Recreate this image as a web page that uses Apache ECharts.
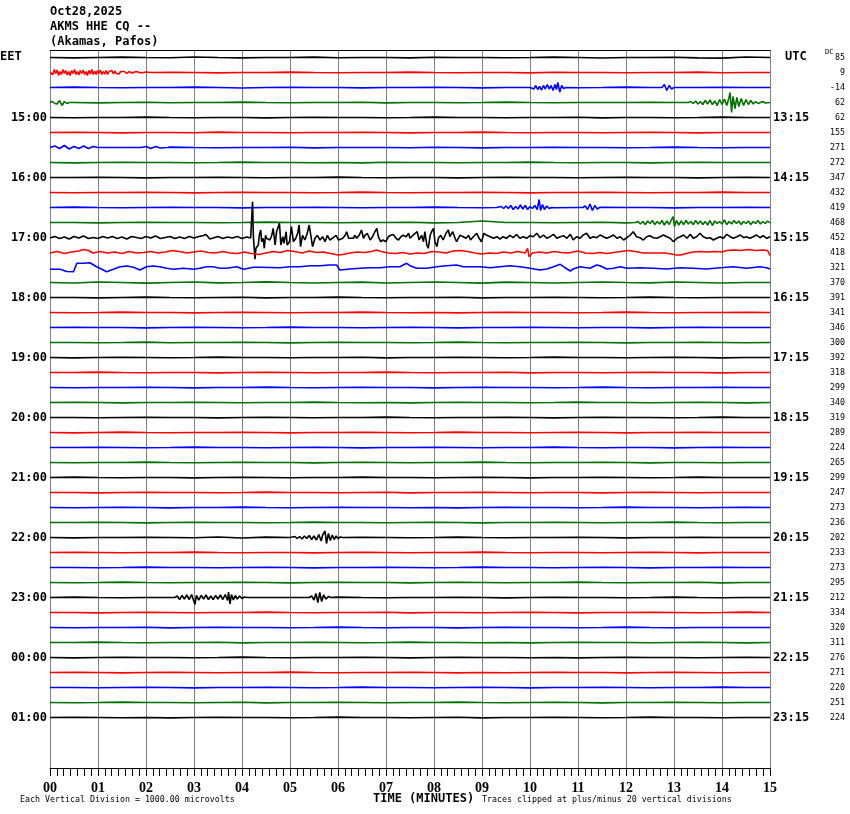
<!DOCTYPE html>
<html><head><meta charset="utf-8">
<script src="https://cdn.jsdelivr.net/npm/echarts@6/dist/echarts.min.js"></script>
<style>html,body{margin:0;padding:0;background:#fff}#c{width:850px;height:814px}</style>
</head><body><div id="c"></div><script>
// ---------- DATA ----------
const titleLines = ['Oct28,2025', 'AKMS HHE CQ --', '(Akamas, Pafos)'];
const eetHourLabels = ['15:00','16:00','17:00','18:00','19:00','20:00','21:00','22:00','23:00','00:00','01:00'];
const utcHourLabels = ['13:15','14:15','15:15','16:15','17:15','18:15','19:15','20:15','21:15','22:15','23:15'];
const dcValues = [85,9,-14,62,62,155,271,272,347,432,419,468,452,418,321,370,391,341,346,300,392,318,299,340,319,289,224,265,299,247,273,236,202,233,273,295,212,334,320,311,276,271,220,251,224];
const traceColors = ['#000000','#ff0000','#0000ff','#007000'];

// background deflection of each trace, one value every half minute (0..15), in px of deflection (+ = down)
const baseTraces = [
 [0,.4,0,-.4,0,.3,-.5,0,.4,0,0,-.4,.3,0,0,.4,-.3,0,0,.3,0,-.4,0,.5,0,0,-.3,.4,.6,-.5,0],
 [0,0,0,.4,0,-.3,0,.4,0,0,-.4,0,.3,0,0,-.4,0,.3,0,0,.4,-.3,0,0,.3,0,0,-.4,.3,0,0],
 [0,-.4,0,.3,0,0,-.4,0,.5,0,-.3,0,0,.4,0,0,-.3,0,.4,0,0,0,.3,0,-.4,0,.3,0,-.3,0,0],
 [0,0,.4,0,-.3,.3,0,0,-.4,0,.3,0,0,-.3,.4,0,0,.3,0,-.4,0,.3,0,0,0,-.3,0,0,0,.4,0],
 [0,.3,0,0,-.4,0,.3,0,0,.4,0,-.3,0,0,.3,0,-.4,0,0,.3,0,0,-.3,.4,0,0,.3,0,-.4,0,0],
 [0,-.3,0,.4,0,0,.3,-.4,0,0,.3,0,0,-.3,0,.4,0,0,-.4,0,.3,0,0,.3,0,-.3,0,.4,0,0,0],
 [0,0,.3,0,0,-.4,0,.3,0,0,-.3,.4,0,0,0,.3,-.3,0,.4,0,0,-.3,0,0,.3,0,-.4,0,.3,0,0],
 [0,.4,0,-.3,0,0,.3,0,-.4,0,0,.3,0,.4,-.3,0,0,.3,0,0,-.4,0,.3,0,0,.4,0,-.3,0,0,0],
 [0,0,-.3,0,.4,0,0,-.3,0,.3,0,0,-.4,0,.3,0,0,.4,0,-.3,0,0,.3,0,-.3,0,0,.4,0,-.3,0],
 [0,.3,0,0,-.3,0,.4,0,-.3,0,0,.3,0,-.4,0,.3,0,0,-.3,0,.4,0,0,-.3,0,.3,0,0,-.4,0,0],
 [0,-.4,0,.3,0,-.3,0,0,.4,0,0,-.3,0,.3,0,0,-.4,0,.3,0,0,.3,0,-.3,0,0,.4,0,0,-.3,0],
 [0,0,.4,0,-.3,0,0,.3,0,-.4,0,0,.3,0,0,-.3,.4,0,-1.5,0,0,.3,0,-.3,.4,0,0,0,0,0,0],
 null,
 null,
 null,
 [0,.5,-.5,0,.6,0,-.5,.4,0,-.6,0,.5,0,-.4,.5,0,-.5,0,.6,-.4,0,.5,0,-.5,0,.4,-.5,0,.5,0,0],
 [0,0,.4,0,-.4,0,.3,0,-.3,.4,0,0,-.4,0,.3,0,0,-.3,.4,0,0,-.3,0,.3,0,-.4,0,.3,0,0,0],
 [0,.3,0,-.4,0,0,.4,0,-.3,0,.3,0,0,-.4,0,.3,0,.4,0,-.3,0,0,.3,0,-.4,0,.3,0,0,-.3,0],
 [0,-.3,0,0,.4,0,-.3,0,.3,0,-.4,0,0,.3,0,-.3,0,.4,0,0,-.3,0,.3,0,0,.4,0,-.3,0,0,0],
 [0,0,.3,0,-.4,.3,0,0,-.3,0,.4,0,-.3,0,0,.3,0,-.4,0,.3,0,0,-.3,0,.4,0,0,-.3,0,.3,0],
 [0,.4,0,-.3,0,.3,0,-.4,0,0,.3,0,0,-.3,.4,0,0,-.3,0,.3,0,-.4,0,0,.3,0,-.3,0,.4,0,0],
 [0,0,-.4,0,.3,0,0,.4,0,-.3,0,.3,0,0,-.4,0,.3,0,0,-.3,.4,0,0,.3,0,-.3,0,0,.4,0,0],
 [0,.3,0,0,-.3,0,.4,0,0,-.4,0,.3,0,-.3,0,0,.4,0,-.3,0,0,.3,0,-.4,0,.3,0,0,-.3,0,0],
 [0,-.3,0,.4,0,0,-.3,0,.3,0,0,-.4,0,.3,0,.4,0,-.3,0,0,.3,0,-.4,0,0,.3,0,-.3,0,.4,0],
 [0,0,.3,0,-.3,0,0,.4,0,-.3,0,.3,0,0,-.4,0,.3,0,0,-.3,0,.4,0,-.3,0,0,.3,0,-.4,0,0],
 [0,.4,0,-.4,0,.3,0,0,-.3,0,.4,0,0,-.3,0,.3,0,-.4,0,0,.3,0,-.3,0,.4,0,0,-.3,0,0,0],
 [0,0,-.3,0,.3,0,-.4,0,0,.3,0,-.3,0,.4,0,0,-.3,0,.3,0,0,-.4,0,.3,0,0,.4,0,-.3,0,0],
 [0,.3,0,0,-.4,0,.3,0,-.3,0,0,.4,0,-.3,0,.3,0,0,-.4,0,.3,0,0,-.3,0,.4,0,0,.3,0,0],
 [0,-.4,0,.3,0,0,.4,0,-.3,0,.3,0,0,-.4,0,0,.3,0,-.3,0,.4,0,0,-.3,0,.3,0,-.4,0,0,0],
 [0,0,.4,0,-.3,0,0,.3,0,-.4,0,0,.3,0,-.3,.4,0,0,-.3,0,.3,0,0,.4,0,-.3,0,.3,0,0,0],
 [0,.3,0,-.3,0,.4,0,0,-.4,0,.3,0,-.3,0,0,.3,0,.4,0,-.3,0,0,.3,0,-.4,0,0,.3,0,-.3,0],
 [0,0,-.3,0,.4,0,-.3,0,0,.3,0,-.4,0,0,.3,0,-.3,0,.4,0,0,-.3,0,.3,0,0,-.4,0,.3,0,0],
 [0,.4,0,0,-.3,0,.3,-.5,.5,-.4,.4,0,0,-.3,0,.3,0,-.4,0,.3,0,0,-.3,0,.4,0,0,-.3,0,0,0],
 [0,-.3,0,.3,0,0,-.4,0,.3,0,0,.4,0,-.3,0,.3,0,0,-.4,0,.3,0,0,.3,0,-.3,0,.4,0,0,0],
 [0,0,.3,0,-.4,0,0,.3,0,-.3,0,.4,0,0,-.3,0,.3,0,-.4,0,0,.3,0,-.3,0,.4,0,0,-.3,0,0],
 [0,.3,0,-.4,0,.3,0,0,-.3,0,.4,0,-.3,0,0,.4,0,-.3,0,.3,0,0,-.4,0,.3,0,0,-.3,.4,0,0],
 [0,-.4,0,.3,0,0,.4,0,-.3,0,0,.3,-.4,0,.3,0,0,-.3,0,.4,0,-.3,0,0,.3,0,-.4,0,.3,0,0],
 [0,0,.4,0,-.3,0,.3,0,0,-.4,0,.3,0,0,-.3,.4,0,0,.3,0,-.3,0,.4,0,0,-.3,0,.3,0,-.4,0],
 [0,.3,0,0,-.3,.4,0,-.3,0,0,.3,0,-.4,0,.3,0,0,.4,0,-.3,0,0,.3,0,-.4,0,.3,0,0,0,0],
 [0,0,-.4,0,.3,0,0,-.3,.4,0,0,-.3,0,.3,0,-.4,0,0,.3,0,.4,0,-.3,0,0,.3,0,-.3,0,.4,0],
 [0,.4,0,-.3,0,0,.3,0,-.4,0,.3,0,0,-.3,0,.4,0,-.3,0,0,.3,0,.4,0,-.3,0,0,.3,0,-.3,0],
 [0,-.3,0,.4,0,-.3,0,.3,0,0,-.4,0,.3,0,0,-.3,0,.4,0,.3,0,-.3,0,0,.4,0,-.3,0,.3,0,0],
 [0,0,.3,0,-.3,0,.4,0,0,-.3,0,.3,0,-.4,0,0,.3,0,-.3,0,.4,0,0,-.3,0,.3,0,0,-.4,0,0],
 [0,.3,0,-.4,0,0,.3,0,-.3,.4,0,0,-.3,0,.3,0,0,-.4,0,.3,0,-.3,0,.4,0,0,-.3,0,.3,0,0],
 [0,-.3,0,.3,0,.4,0,-.3,0,0,.3,0,-.4,0,0,.3,0,-.3,.4,0,0,-.3,0,.3,0,-.4,0,0,.3,0,0]
];

// bursts / detailed sections: [minute, deflection px]
const noise1415 = [[0,0],[0.03,-2],[0.06,2],[0.09,-3],[0.12,1],[0.15,-2.5],[0.18,3],[0.21,-1],[0.24,2],[0.27,-3],[0.3,1],[0.33,-2],[0.36,2.5],[0.39,-1],[0.42,3],[0.45,-2],[0.48,1],[0.51,-3],[0.54,2],[0.57,-1],[0.6,2.5],[0.63,-2],[0.66,1],[0.69,-2.5],[0.72,2],[0.75,-1],[0.78,3],[0.81,-2],[0.84,1.5],[0.87,-3],[0.9,2],[0.93,-1.5],[0.96,2],[0.99,-2],[1.02,1],[1.05,-2.5],[1.08,2],[1.11,-1],[1.14,1.5],[1.17,-2],[1.2,2],[1.23,-1],[1.26,1],[1.29,-2],[1.32,1.5],[1.35,-1.5],[1.38,1],[1.41,-1],[1.44,1.5],[1.47,-1],[1.5,1],[1.55,-1],[1.6,1],[1.65,-1],[1.7,0.5],[1.8,-1],[1.9,0.5],[2.0,-0.5],[2.1,0]];
const event1430a = [[10.0,0],[10.04,-1.5],[10.08,1.5],[10.12,-2],[10.16,2],[10.2,-1],[10.24,2.5],[10.28,-2],[10.32,1.5],[10.36,-3],[10.4,1.5],[10.44,-2],[10.48,3],[10.52,-3],[10.55,2],[10.58,-5],[10.62,4.5],[10.66,-2],[10.7,1],[10.75,0]];
const event1430b = [[12.75,0],[12.8,-3],[12.85,3],[12.9,-2],[12.95,1.5],[13.0,0]];
const noise1445 = [[0,0],[0.05,-1],[0.1,1],[0.15,1.5],[0.2,-2],[0.25,3],[0.3,-1],[0.35,1],[0.4,0]];
const event1445 = [[13.3,0],[13.35,-1],[13.4,1],[13.45,-1.5],[13.5,1.5],[13.55,-1],[13.6,2],[13.65,-2],[13.7,1.5],[13.75,-2.5],[13.8,2],[13.85,-1.5],[13.9,3],[13.95,-3],[14.0,2],[14.05,-3.5],[14.1,3],[14.14,-4],[14.17,-10],[14.2,10],[14.23,-6],[14.27,6],[14.31,-5],[14.35,4],[14.4,-4],[14.45,3],[14.5,-3],[14.55,2],[14.6,-2],[14.65,1.5],[14.7,-1],[14.75,1],[14.85,-1],[14.9,0.5],[15,0]];
const noise1530a = [[0,0],[0.1,-1.5],[0.2,1],[0.3,-2],[0.4,1.5],[0.5,-1],[0.6,1],[0.7,-1.5],[0.8,1],[0.9,-1],[1.0,0]];
const noise1530b = [[1.9,0],[2.0,-1],[2.1,1],[2.2,-1],[2.3,0.5],[2.45,0]];
const event1630a = [[9.3,0],[9.4,-1],[9.45,1],[9.5,-1.5],[9.55,1],[9.6,-2],[9.65,2],[9.7,-1],[9.75,1.5],[9.8,-2.5],[9.85,1.5],[9.9,-2],[9.95,2],[10.0,-1],[10.05,1],[10.1,-2],[10.15,2],[10.19,-8],[10.22,3],[10.26,-3],[10.3,2],[10.35,-1.5],[10.4,1],[10.45,0]];
const event1630b = [[11.1,0],[11.15,-1.5],[11.2,2],[11.25,-3.5],[11.3,3],[11.35,-2],[11.4,1.5],[11.45,0]];
const noise1645 = [[12.2,0],[12.25,-1],[12.3,1.5],[12.35,-1],[12.4,2],[12.45,-1.5],[12.5,1],[12.55,-2],[12.6,2],[12.65,-1],[12.7,1.5],[12.75,-2],[12.8,2.5],[12.85,-1.5],[12.9,2],[12.95,-3],[12.98,-6],[13.01,4],[13.05,-2],[13.1,2.5],[13.15,-1.5],[13.2,2],[13.25,-2],[13.3,1.5],[13.35,-1],[13.4,2],[13.45,-2],[13.5,1.5],[13.55,-1.5],[13.6,2],[13.65,-1],[13.7,2.5],[13.75,-2],[13.8,3],[13.85,-1.5],[13.9,1],[13.95,-1],[14.0,1.5],[14.05,-2.5],[14.1,2],[14.15,-1],[14.2,1.5],[14.25,-2],[14.3,1],[14.35,-1.5],[14.4,2],[14.45,-1],[14.5,1],[14.55,-1.5],[14.6,2],[14.65,-1],[14.7,1],[14.75,-2],[14.8,1.5],[14.85,-1],[14.9,1],[14.95,-1.5],[15,0.5]];
const quake1700 = [[0,0.5],[0.1,-1],[0.2,1],[0.3,-0.5],[0.4,1.5],[0.5,-1],[0.6,0.5],[0.7,-1.5],[0.8,1],[0.9,0],[1.0,1],[1.1,-1],[1.2,0.5],[1.3,-1],[1.4,1],[1.5,-0.5],[1.6,1.5],[1.7,-1],[1.8,0],[1.9,1],[2.0,-1],[2.1,0.5],[2.2,-1.5],[2.3,1],[2.4,0],[2.5,-1],[2.6,1],[2.7,-0.5],[2.8,1],[2.9,-1],[3.0,0.5],[3.1,-1],[3.2,-2],[3.25,-3],[3.33,1.5],[3.4,0.5],[3.5,-1],[3.6,1],[3.7,-0.5],[3.8,0.5],[3.9,-1],[4.0,1],[4.1,-0.5],[4.18,0.5],
 [4.2,-0.8],[4.22,-35.8],[4.236,-2],[4.27,21.8],[4.29,10.8],[4.34,7.5],[4.36,-2],[4.39,-7.5],[4.41,4.2],[4.44,0.8],[4.465,10.8],[4.49,-2.2],[4.51,0.8],[4.55,-0.8],[4.58,2.5],[4.62,-2.2],[4.65,-9.2],[4.69,7.5],[4.72,-5.8],[4.78,-14.2],[4.81,7.5],[4.85,-0.8],[4.875,5.8],[4.92,-5.8],[4.94,7.5],[4.99,4.2],[5.03,-10.8],[5.07,4.2],[5.12,0.8],[5.16,-4.2],[5.19,-12.5],[5.22,9.2],[5.26,-2.2],[5.31,2.5],[5.36,-4.2],[5.40,-12.5],[5.43,-14.2],[5.47,9.2],[5.52,0.8],[5.57,-2.2],[5.625,2.5],[5.68,-0.8],[5.73,4.2],[5.78,-2.2],[5.83,2.5],[5.90,0.2],[5.96,-2.2],[6.01,2.5],[6.04,4.2],[6.10,0.8],[6.15,-2.2],[6.18,-5.8],[6.22,0.8],[6.26,-0.8],[6.32,0.8],[6.35,-2.2],[6.39,0.8],[6.44,-2.2],[6.49,-7.5],[6.53,0.8],[6.56,-2.2],[6.61,-4.2],[6.67,2.5],[6.72,-0.8],[6.77,-5.8],[6.81,-9.2],[6.84,-0.8],[6.89,4.2],[6.94,2.5],[7.0,4.2],[7.05,-0.8],[7.10,-2.2],[7.15,-3],[7.21,0.8],[7.26,2.5],[7.31,-0.8],[7.36,-2.2],[7.42,-0.8],[7.47,-4.2],[7.5,0.8],[7.56,-2.2],[7.6,-0.8],[7.65,-5.8],[7.69,2.5],[7.74,-2.2],[7.78,4.2],[7.81,-5.8],[7.85,7.5],[7.88,10.8],[7.92,-2.2],[7.95,-5.8],[7.99,-9.2],[8.02,4.2],[8.06,9.2],[8.09,0.8],[8.14,-2.2],[8.19,2.5],[8.25,-4.2],[8.30,-7.5],[8.33,-0.8],[8.39,-5.8],[8.44,0.8],[8.47,4.2],[8.54,-2.2],[8.61,-0.8],[8.67,0.8],[8.72,-2.2],[8.76,2.5],[8.82,-0.8],[8.89,-4.2],[8.94,0.8],[8.99,4.2],[9.04,-4.2],[9.10,-2.2],[9.17,-0.8],[9.24,0.8],[9.31,-0.8],[9.375,1.5],[9.44,-0.8],[9.51,0.8],[9.58,-2.2],[9.65,0.2],[9.72,-3],[9.79,0.8],[9.86,-0.8],[9.93,0.8],[10.0,-1.8],
 [10.07,-0.8],[10.14,-4.2],[10.21,0.2],[10.28,-2.5],[10.35,0.8],[10.42,-0.8],[10.49,-3.2],[10.56,0.8],[10.63,-0.8],[10.7,-1.8],[10.77,0.8],[10.84,-3.2],[10.9,2.5],[10.97,-0.8],[11.04,0.8],[11.11,-2.5],[11.18,-4.2],[11.25,0.8],[11.32,-0.8],[11.39,0.2],[11.46,-2.5],[11.53,-0.8],[11.6,0.8],[11.67,-0.8],[11.74,-2.5],[11.81,0.8],[11.88,-0.8],[11.95,2.5],[12.02,0.2],[12.09,-2.5],[12.15,-5.8],[12.22,-0.8],[12.29,0.2],[12.36,2.5],[12.43,-0.8],[12.5,-1.8],[12.57,0.2],[12.64,0.8],[12.71,-0.8],[12.78,-2.5],[12.85,-0.8],[12.92,0.8],[12.99,4.2],[13.06,0.8],[13.13,-0.8],[13.2,-2.5],[13.27,0.8],[13.34,-3.2],[13.4,0.8],[13.47,-0.8],[13.54,-4.2],[13.61,-0.8],[13.68,0.8],[13.75,0.2],[13.82,2.5],[13.89,0.8],[13.96,-0.8],[14.03,0.8],[14.1,-3.2],[14.17,-0.8],[14.24,0.8],[14.31,-0.8],[14.38,-2.5],[14.45,0.2],[14.51,-0.8],[14.58,0.8],[14.65,-0.8],[14.72,-2.5],[14.79,0.2],[14.86,-1.8],[14.93,0.8],[15.0,-0.8]];
const wave1715 = [[0,0.5],[0.15,-1],[0.3,1],[0.45,-0.5],[0.6,-1.5],[0.7,-3],[0.8,-2],[0.9,0.5],[1.05,-1],[1.2,0.5],[1.35,-0.5],[1.5,1],[1.65,-1],[1.8,0.5],[1.95,0],[2.1,-1],[2.25,0.5],[2.4,-0.5],[2.55,-2],[2.7,-1],[2.85,0.5],[3.0,-0.5],[3.15,-1.5],[3.3,0],[3.45,0.5],[3.6,-1],[3.75,0.5],[3.9,1],[4.05,-0.5],[4.2,1],[4.35,2],[4.5,0.5],[4.65,-1],[4.8,0],[4.95,-2],[5.1,-1],[5.25,0.5],[5.4,-1.5],[5.55,0],[5.7,-0.5],[5.85,1],[6.0,2.5],[6.1,2],[6.25,0.5],[6.4,-0.5],[6.55,0],[6.7,-1],[6.8,-2.5],[6.9,-1],[7.05,0.5],[7.2,1],[7.35,0],[7.5,1.5],[7.65,0.5],[7.8,1],[7.95,-1],[8.1,-0.5],[8.25,0.5],[8.4,-1.5],[8.55,-2],[8.7,-1],[8.85,0.5],[9.0,1.5],[9.15,0.5],[9.3,1],[9.45,-0.5],[9.6,0.5],[9.75,-1],[9.9,0.5],[9.95,-4.2],[9.98,4.2],[10.05,0.5],[10.2,-0.5],[10.35,0.5],[10.5,-1],[10.65,0],[10.8,0.5],[11.0,-1.5],[11.15,0.5],[11.3,1],[11.45,0],[11.6,1],[11.75,0],[11.9,-1],[12.05,-2],[12.2,-1],[12.35,0.5],[12.5,0.5],[12.65,0.5],[12.8,0.5],[12.95,1.5],[13.05,2.5],[13.15,2.5],[13.25,1],[13.4,-0.5],[13.55,-1],[13.7,-0.5],[13.85,-1],[14.0,-0.5],[14.1,-2],[14.25,-2.5],[14.4,-2],[14.55,-3],[14.7,-2],[14.85,-2.5],[14.95,-2],[15.0,3]];
const wave1730 = [[0,1.8],[0.21,1.8],[0.35,4],[0.49,4.2],[0.56,-4.2],[0.69,-4.2],[0.83,-4.8],[0.97,-0.8],[1.04,0.8],[1.18,4.2],[1.32,1.8],[1.46,-0.8],[1.6,-1.5],[1.74,-0.2],[1.875,2.5],[2.01,-0.8],[2.15,-1.5],[2.29,-0.8],[2.43,0.8],[2.57,1.8],[2.78,0.8],[2.99,1.8],[3.125,0.8],[3.26,-0.8],[3.4,-0.8],[3.54,0.8],[3.68,0.8],[3.89,-0.8],[4.03,1.8],[4.24,-0.2],[4.375,-0.2],[4.79,0.2],[5.0,-0.8],[5.21,-0.8],[5.42,-1.8],[5.625,-1.8],[5.83,-2.5],[5.97,-2.5],[6.04,2.5],[6.25,1.5],[6.46,0.8],[6.67,0.2],[6.875,0.2],[7.08,-0.8],[7.29,-0.8],[7.36,-2.5],[7.43,-4.2],[7.5,-1.8],[7.64,0.8],[7.85,0.8],[8.06,-0.8],[8.26,-1.8],[8.47,-2.5],[8.61,-0.8],[8.75,-0.8],[8.96,-0.8],[9.17,0.2],[9.375,-0.8],[9.58,-1.8],[9.79,-0.8],[10.0,0.8],[10.21,2.5],[10.35,1.5],[10.49,-0.8],[10.63,-3.2],[10.73,0.2],[10.84,3.5],[10.9,1.5],[11.04,-0.8],[11.25,0.8],[11.39,-2.5],[11.46,-1.8],[11.6,1.5],[11.74,0.8],[11.88,-0.8],[12.02,0.8],[12.29,0.2],[12.57,0.8],[12.85,1.5],[13.13,0.2],[13.4,0.8],[13.68,1.5],[13.96,0.2],[14.24,-0.8],[14.51,0.8],[14.79,-0.8],[14.93,0.2],[15,1.5]];
const event2200 = [[5.0,0],[5.1,-1],[5.15,1],[5.2,-1],[5.25,1.5],[5.3,-1.5],[5.35,1],[5.4,-2],[5.45,2],[5.5,-1.5],[5.55,2.5],[5.6,-3],[5.65,3.5],[5.68,-2.5],[5.73,-6.5],[5.76,6],[5.8,-4],[5.84,3],[5.88,-2.5],[5.92,2],[5.96,-1.5],[6.0,1],[6.05,-0.5],[6.1,0]];
const event2300a = [[2.6,0],[2.65,-1.5],[2.7,2],[2.75,-2],[2.8,1.5],[2.85,-2.5],[2.9,2],[2.95,-3],[2.99,-4],[3.02,7],[3.05,-2],[3.1,2.5],[3.15,-2],[3.2,1.5],[3.25,-2.5],[3.3,2],[3.35,-1.5],[3.4,2],[3.45,-2],[3.5,1.5],[3.55,-2.5],[3.6,2],[3.65,-3],[3.7,3],[3.72,-5.5],[3.75,6.5],[3.78,-3],[3.82,2.5],[3.86,-2],[3.9,1.5],[3.95,-1.5],[4.0,1],[4.05,-0.5],[4.1,0]];
const event2300b = [[5.4,0],[5.45,-1.5],[5.5,2.5],[5.54,-4],[5.58,5],[5.62,-5],[5.66,4],[5.7,-2.5],[5.75,1.5],[5.8,-1],[5.85,0]];
const bursts = {1:[noise1415], 2:[event1430a, event1430b], 3:[noise1445, event1445], 6:[noise1530a, noise1530b], 10:[event1630a, event1630b], 11:[noise1645], 12:[quake1700], 13:[wave1715], 14:[wave1730], 32:[event2200], 36:[event2300a, event2300b]};

// ---------- CHART ----------
const N = dcValues.length;          // 45 traces, 15 minutes each
const ROW = 15, TOP_PAD = 7.5, YMAX = 718;
function traceIndex(v){ const k = v / 7.5; const r = Math.round(k); if (Math.abs(k - r) > 1e-6 || r % 2 === 0) return -1; return (r - 1) / 2; }
const series = [];
for (let i = 0; i < N; i++) {
  let pts = baseTraces[i] ? baseTraces[i].map((v, k) => [k * 0.5, v]) : [];
  (bursts[i] || []).forEach(b => {
    const t0 = b[0][0], t1 = b[b.length - 1][0];
    pts = pts.filter(p => p[0] < t0 || p[0] > t1).concat(b);
  });
  pts.sort((a, b) => a[0] - b[0]);
  series.push({
    type: 'line', xAxisIndex: 0, yAxisIndex: 0, symbol: 'none', silent: true, animation: false,
    data: pts.map(p => [p[0], TOP_PAD + ROW * i + p[1]]),
    lineStyle: { color: traceColors[i % 4], width: 1.6 }, z: 3
  });
}
const monoB = { fontFamily: 'DejaVu Sans Mono', fontWeight: 'bold', fontSize: 12, color: '#000' };
const small = { fontFamily: 'DejaVu Sans Mono', fontSize: 8.3, color: '#000' };
const yBase = { type: 'value', min: 0, max: YMAX, interval: 7.5, inverse: true, axisLine: { show: false }, axisTick: { show: false }, splitLine: { show: false } };
const chart = echarts.init(document.getElementById('c'), null, { renderer: 'canvas' });
chart.setOption({
  backgroundColor: '#ffffff',
  animation: false,
  grid: { left: 50, right: 80, top: 50, bottom: 46, containLabel: false },
  xAxis: [
    { type: 'value', min: 0, max: 15, interval: 1, position: 'bottom',
      axisLine: { onZero: false, lineStyle: { color: '#000', width: 1 } },
      axisTick: { show: true, length: 8, lineStyle: { color: '#000', width: 1 } },
      minorTick: { show: true, splitNumber: 7, length: 8, lineStyle: { color: '#000', width: 1 } },
      splitLine: { show: true, lineStyle: { color: '#808080', width: 1 } },
      axisLabel: { margin: 13, formatter: v => String(v).padStart(2, '0'), fontFamily: 'Liberation Serif', fontWeight: 'bold', fontSize: 14, color: '#000' } },
    { type: 'value', min: 0, max: 15, position: 'top',
      axisLine: { show: true, onZero: false, lineStyle: { color: '#000', width: 1 } },
      axisTick: { show: false }, axisLabel: { show: false }, splitLine: { show: false } }
  ],
  yAxis: [
    Object.assign({}, yBase, { position: 'left',
      axisLabel: Object.assign({ margin: 3, formatter: v => { const i = traceIndex(v); return (i > 0 && i % 4 === 0) ? eetHourLabels[i / 4 - 1] : ''; } }, monoB) }),
    Object.assign({}, yBase, { position: 'right',
      axisLabel: Object.assign({ margin: 3, formatter: v => { const i = traceIndex(v); return (i > 0 && i % 4 === 0) ? utcHourLabels[i / 4 - 1] : ''; } }, monoB) }),
    Object.assign({}, yBase, { position: 'right', offset: 75,
      axisLabel: Object.assign({ margin: 0, align: 'right', formatter: v => { const i = traceIndex(v); return (i >= 0 && i < N) ? String(dcValues[i]) : ''; } }, small) })
  ],
  series: series,
  graphic: [
    { type: 'text', left: 50, top: 6, style: Object.assign({ text: titleLines[0] }, monoB) },
    { type: 'text', left: 50, top: 21, style: Object.assign({ text: titleLines[1] }, monoB) },
    { type: 'text', left: 50, top: 36, style: Object.assign({ text: titleLines[2] }, monoB) },
    { type: 'text', left: 0, top: 51, style: Object.assign({ text: 'EET' }, monoB) },
    { type: 'text', left: 785, top: 51, style: Object.assign({ text: 'UTC' }, monoB) },
    { type: 'text', left: 825, top: 49, style: Object.assign({}, small, { text: 'DC', fontSize: 7 }) },
    { type: 'text', left: 373, top: 793, style: Object.assign({ text: 'TIME (MINUTES)' }, monoB) },
    { type: 'text', left: 20, top: 796, style: Object.assign({ text: 'Each Vertical Division = 1000.00 microvolts' }, small) },
    { type: 'text', left: 482, top: 796, style: Object.assign({ text: 'Traces clipped at plus/minus 20 vertical divisions' }, small) }
  ]
});
</script></body></html>
